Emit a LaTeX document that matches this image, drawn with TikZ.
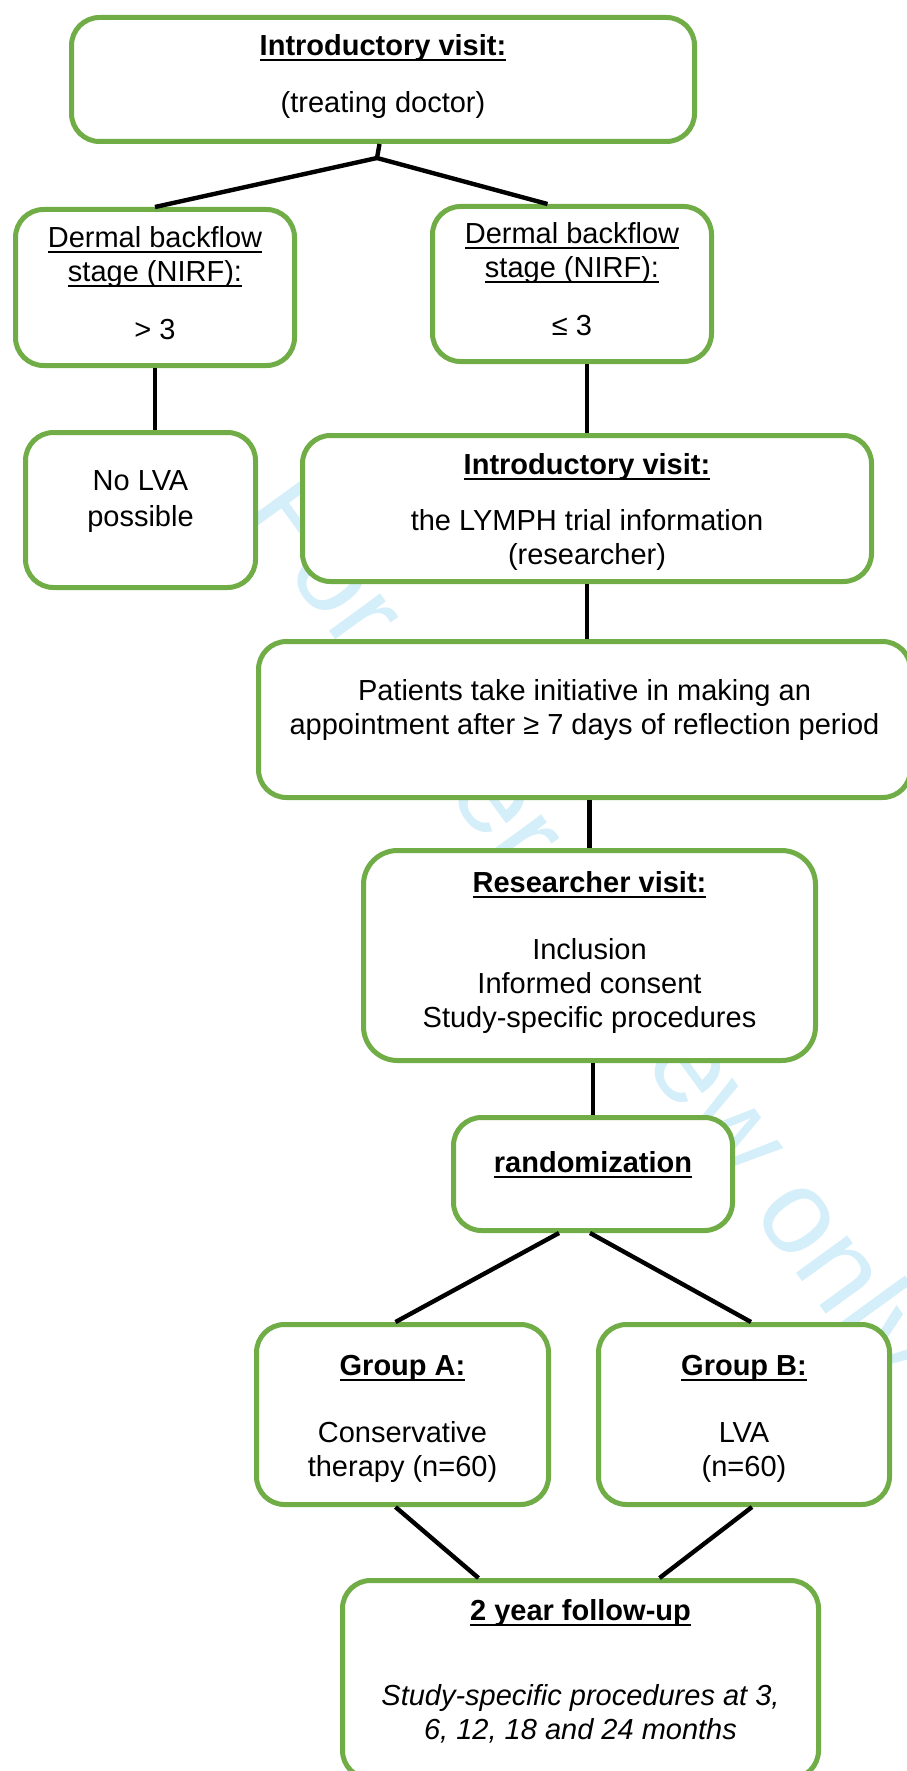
\documentclass[tikz,border=0pt]{standalone}
\usepackage{fontspec}
\setmainfont{Liberation Sans}

\definecolor{boxgreen}{RGB}{112,173,71}
\definecolor{markcyan}{RGB}{212,238,250}

% underlined text, rule at a fixed depth
\newcommand\ulbox[1]{\setbox0\hbox{#1}\rlap{\rule[-2.8pt]{\wd0}{0.9pt}}\box0}
% lines of a box, baseline on the first line
\newcommand\stagetext[1]{\begin{tabular}[t]{@{}c@{}}#1\end{tabular}}

\begin{document}
\begin{tikzpicture}[
  x=0.5pt, y=-0.5pt,
  stage/.style={draw=boxgreen, line width=2.5pt, rounded corners=14pt,
                fill=white, inner sep=0pt, anchor=north west,
                font=\fontsize{14.5}{17}\selectfont},
  link/.style={line width=2.2pt}
]

  \useasboundingbox (0,0) rectangle (906,1771);

  % ── Watermark (behind the boxes) ──────────────────────────────────────────
  \node[text=markcyan, rotate=-54, font=\fontsize{60}{66}\selectfont] (wmark)
      at (587,933) {For peer review only};

  % ── Boxes ─────────────────────────────────────────────────────────────────
  \node[stage, minimum width=311.5pt, text height=19pt, text depth=43pt] (intro) at (69,15)
      {\stagetext{\ulbox{\bfseries Introductory visit:}\\[11.5pt] (treating doctor)}};

  \node[stage, minimum width=139.5pt, text height=19pt, text depth=59pt] (derml) at (13,207)
      {\stagetext{\ulbox{Dermal backflow}\\ \ulbox{stage (NIRF):}\\[12pt] > 3}};
  \node[stage, minimum width=139.5pt, text height=18.5pt, text depth=59pt] (dermr) at (430,204)
      {\stagetext{\ulbox{Dermal backflow}\\ \ulbox{stage (NIRF):}\\[12pt] ≤ 3}};

  \node[stage, minimum width=115pt, text height=29pt, text depth=48.5pt] (nolva) at (23,430)
      {\stagetext{No LVA\\[1pt] possible}};
  \node[stage, minimum width=284.5pt, text height=19.5pt, text depth=53.5pt] (intro2) at (300,433)
      {\stagetext{\ulbox{\bfseries Introductory visit:}\\[11pt] the LYMPH trial information\\ (researcher)}};

  \node[stage, minimum width=326pt, text height=29.5pt, text depth=48.5pt] (patients) at (256,639)
      {\stagetext{Patients take initiative in making an\\ appointment after ≥ 7 days of reflection period}};

  \node[stage, rounded corners=17pt, minimum width=226pt, text height=21pt, text depth=84pt] (research) at (361,848)
      {\stagetext{\ulbox{\bfseries Researcher visit:}\\[16.5pt] Inclusion\\ Informed consent\\ Study-specific procedures}};

  \node[stage, minimum width=139.5pt, text height=27.5pt, text depth=29pt] (random) at (451,1115)
      {\stagetext{\ulbox{\bfseries randomization}}};

  \node[stage, minimum width=146pt, text height=25.5pt, text depth=64.5pt] (groupA) at (254,1322)
      {\stagetext{\ulbox{\bfseries Group A:}\\[16.5pt] Conservative\\ therapy (n=60)}};
  \node[stage, minimum width=145.5pt, text height=25.5pt, text depth=64.5pt] (groupB) at (596,1322)
      {\stagetext{\ulbox{\bfseries Group B:}\\[16.5pt] LVA\\ (n=60)}};

  \node[stage, minimum width=238pt, text height=20pt, text depth=79pt] (follow) at (340,1578)
      {\stagetext{\ulbox{\bfseries 2 year follow-up}\\[25.5pt]
        \itshape Study-specific procedures at 3,\\ \itshape 6, 12, 18 and 24 months}};

  % ── Connectors ────────────────────────────────────────────────────────────
  \coordinate (split) at (377,158);
  \draw[link] ([xshift=-1.75pt]intro.south) -- (split);
  \draw[link] (split) -- (derml.north);
  \draw[link] (split) -- ([xshift=-12.25pt]dermr.north);

  \draw[link] (derml.south) -- (derml.south |- nolva.north);
  \draw[link] (intro2.north |- dermr.south) -- (intro2.north);
  \draw[link] (intro2.south) -- (intro2.south |- patients.north);
  \draw[link] (research.north |- patients.south) -- (research.north);
  \draw[link] (random.north |- research.south) -- (random.north);

  \draw[link] ([xshift=-17pt]random.south) -- ([xshift=-3.5pt]groupA.north);
  \draw[link] ([xshift=-1.5pt]random.south) -- ([xshift=3.5pt]groupB.north);
  \draw[link] ([xshift=-3.5pt]groupA.south) -- ([xshift=-51pt]follow.north);
  \draw[link] ([xshift=4pt]groupB.south) -- ([xshift=39.5pt]follow.north);

\end{tikzpicture}
\end{document}
